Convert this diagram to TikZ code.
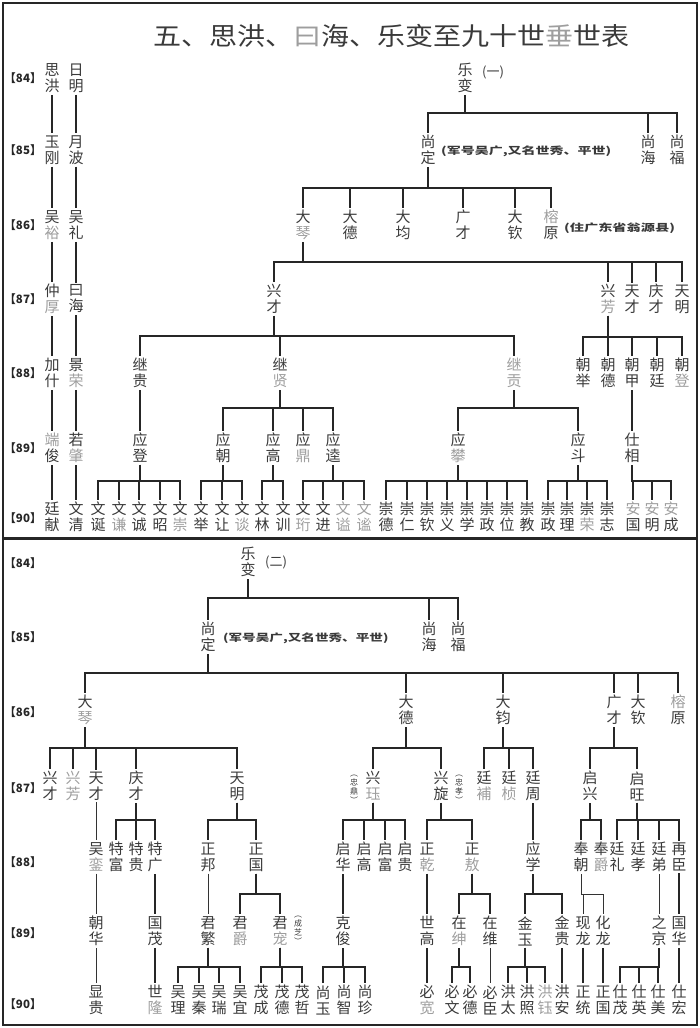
\documentclass[tikz,border=0pt]{standalone}
\usepackage{fontspec}
\usepackage{graphicx}
\setmainfont{Noto Sans CJK SC}
\usetikzlibrary{positioning}
\definecolor{ink}{HTML}{3A3A3A}
\definecolor{faint}{HTML}{9E9E9E}
\newcommand\pale[1]{\textcolor{faint}{#1}}
\begin{document}
\begin{tikzpicture}[x=1pt,y=-1pt,
    person/.style={inner sep=2pt, align=center, text=ink, font=\fontsize{15}{16}\selectfont},
    gen/.style={inner sep=0pt, text=black!85, font=\fontsize{11.5}{13}\selectfont\bfseries},
    note/.style={inner sep=0pt, anchor=west, text=ink, font=\fontsize{10}{12}\selectfont\bfseries},
    vnote/.style={inner sep=0pt, align=center, text=ink, font=\fontsize{8}{9}\selectfont},
    link/.style={line width=2pt, draw=black!85},
    slim/.style={line width=1pt, draw=black!80}]
        \useasboundingbox (0,0) rectangle (700,1028);
        % Frame
        \draw[line width=2.5pt, black!85] (3,3) rectangle (697,1025);
        \draw[line width=3pt, black!85] (3,538) -- (697,538);
        % Title
        \node[text=ink, font=\fontsize{25}{28}\selectfont] (title) at (391,36)
            {\scalebox{1.12}[1]{五、思洪、\pale{曰}海、乐变至九十世\pale{垂}世表}};
        % Generation labels
        \foreach \g/\y in {84/78, 85/150, 86/225, 87/299, 88/373, 89/448, 90/518}
            \node[gen] (up\g) at (23,\y) {【\g】};
        \foreach \g/\y in {84/563, 85/637, 86/712, 87/788, 88/862, 89/933, 90/1004}
            \node[gen] (low\g) at (23,\y) {【\g】};
        % Left lines
        \foreach \id/\y/\txt in {sa/78/思\\洪, sb/150/玉\\刚, sc/225/吴\\\pale{裕}, sd/299/仲\\\pale{厚},
                se/373/加\\什, sf/448/\pale{端}\\俊, sg/517/廷\\献}
            \node[person] (\id) at (52,\y) {\txt};
        \foreach \id/\y/\txt in {ra/78/日\\明, rb/150/月\\波, rc/225/吴\\礼, rd/299/曰\\海,
                re/373/景\\\pale{荣}, rf/448/若\\\pale{肇}, rg/517/文\\清}
            \node[person] (\id) at (76,\y) {\txt};
        \foreach \pa/\ch in {sa/sb, sb/sc, sc/sd, sd/se, se/sf, sf/sg, ra/rb, rb/rc, rc/rd, rd/re, re/rf, rf/rg}
            \draw[link] (\pa) -- (\ch);
        % Upper tree: 84-85
        \node[person] (t84) at (465,78) {乐\\变};
        \node[note, font=\fontsize{13}{14}\selectfont] (n1) at (482,72) {(一)};
        \foreach \id/\x/\txt in {ta/428/尚\\定, tb/648/尚\\海, tc/677/尚\\福}
            \node[person] (\id) at (\x,150) {\txt};
        \node[note] (n2) at (441,151) {\scalebox{1.4}[1]{(军号吴广,又名世秀、平世)}};
        \foreach \kid in {ta,tb,tc}
            \draw[link] (t84) -- (t84 |- 0,113) -| (\kid);
        % Upper tree: 86
        \foreach \id/\x/\txt in {ua/303/大\\\pale{琴}, ub/350/大\\德, uc/403/大\\均, ud/463/广\\才,
                ue/515/大\\钦, uf/551/\pale{榕}\\原}
            \node[person] (\id) at (\x,225) {\txt};
        \node[note] (n3) at (564,228) {\scalebox{1.42}[1]{(住广东省翁源县)}};
        \foreach \kid in {ua,ub,uc,ud,ue,uf}
            \draw[link] (ta) -- (ta |- 0,188) -| (\kid);
        % Upper tree: 87
        \foreach \id/\x/\txt in {va/274/兴\\才, vb/608/兴\\\pale{芳}, vc/632/天\\才, vd/656/庆\\才, ve/682/天\\明}
            \node[person] (\id) at (\x,299) {\txt};
        \foreach \kid in {va,vb,vc,vd,ve}
            \draw[link] (ua) -- (ua |- 0,262) -| (\kid);
        % Upper tree: 88
        \foreach \id/\x/\txt in {wa/140/继\\贵, wb/280/继\\\pale{贤}, wc/514/\pale{继}\\\pale{贡}, wd/583/朝\\举,
                we/608/朝\\德, wf/632/朝\\甲, wg/657/朝\\廷, wh/682/朝\\\pale{登}}
            \node[person] (\id) at (\x,373) {\txt};
        \foreach \kid in {wa,wb,wc}
            \draw[link] (va) -- (va |- 0,336) -| (\kid);
        \foreach \kid in {wd,we,wf,wg,wh}
            \draw[link] (vb) -- (vb |- 0,337) -| (\kid);
        % Upper tree: 89
        \foreach \id/\x/\txt in {xa/140/应\\登, xb/223/应\\朝, xc/273/应\\高, xd/303/应\\\pale{鼎},
                xe/333/应\\逵, xf/458/应\\\pale{攀}, xg/578/应\\斗, xh/632/仕\\相}
            \node[person] (\id) at (\x,448) {\txt};
        \draw[link] (wa) -- (xa);
        \foreach \kid in {xb,xc,xd,xe}
            \draw[link] (wb) -- (wb |- 0,408) -| (\kid);
        \foreach \kid in {xf,xg}
            \draw[link] (wc) -- (wc |- 0,408) -| (\kid);
        \draw[link] (wf) -- (xh);
        % Upper tree: 90
        \foreach \id/\x/\txt in {z1/98/文\\诞, z2/119/文\\\pale{谦}, z3/139/文\\诚, z4/160/文\\昭,
                z5/180/文\\\pale{崇}, z6/201/文\\举, z7/222/文\\让, z8/242/文\\\pale{谈}, z9/262/文\\林,
                z10/283/文\\训, z11/303/文\\\pale{珩}, z12/323/文\\进, z13/343/\pale{文}\\\pale{谥},
                z14/364/\pale{文}\\\pale{谧}, z15/386/崇\\德, z16/407/崇\\仁, z17/427/崇\\钦,
                z18/447/崇\\义, z19/467/崇\\学, z20/487/崇\\政, z21/507/崇\\位, z22/527/崇\\教,
                z23/548/崇\\政, z24/567/崇\\理, z25/587/崇\\\pale{荣}, z26/607/崇\\志,
                z27/633/\pale{安}\\国, z28/652/\pale{安}\\明, z29/671/\pale{安}\\成}
            \node[person] (\id) at (\x,517) {\txt};
        \foreach \kid in {z1,z2,z3,z4,z5}
            \draw[link] (xa) -- (xa |- 0,481) -| (\kid);
        \foreach \kid in {z6,z7,z8}
            \draw[link] (xb) -- (xb |- 0,481) -| (\kid);
        \foreach \kid in {z9,z10}
            \draw[link] (xc) -- (xc |- 0,481) -| (\kid);
        \foreach \kid in {z11,z12,z13,z14}
            \draw[link] (xe) -- (xe |- 0,481) -| (\kid);
        \foreach \kid in {z15,z16,z17,z18,z19,z20,z21,z22}
            \draw[link] (xf) -- (xf |- 0,481) -| (\kid);
        \foreach \kid in {z23,z24,z25,z26}
            \draw[link] (xg) -- (xg |- 0,481) -| (\kid);
        \foreach \kid in {z27,z28,z29}
            \draw[link] (xh) -- (xh |- 0,481) -| (\kid);
        % Lower tree: 84-85
        \node[person] (b84) at (248,562) {乐\\变};
        \node[note, font=\fontsize{13}{14}\selectfont] (n4) at (265,562) {(二)};
        \foreach \id/\x/\txt in {ba/208/尚\\定, bb/429/尚\\海, bc/458/尚\\福}
            \node[person] (\id) at (\x,637) {\txt};
        \node[note] (n5) at (223,638) {\scalebox{1.36}[1]{(军号吴广,又名世秀、平世)}};
        \foreach \kid in {ba,bb,bc}
            \draw[link] (b84) -- (b84 |- 0,598) -| (\kid);
        % Lower tree: 86
        \foreach \id/\x/\txt in {ca/85/大\\\pale{琴}, cb/406/大\\德, cc/503/大\\钧, cd/614/广\\才,
                ce/638/大\\钦, cf/678/\pale{榕}\\原}
            \node[person] (\id) at (\x,710) {\txt};
        \foreach \kid in {ca,cb,cc,cd,ce,cf}
            \draw[link] (ba) -- (ba |- 0,673) -| (\kid);
        % Lower tree: 87
        \foreach \id/\x/\txt in {da/50/兴\\才, db/73/\pale{兴}\\\pale{芳}, dc/96/天\\才, dd/136/庆\\才,
                de/237/天\\明, df/373/兴\\\pale{珏}, dg/441/兴\\旋, dh/484/廷\\\pale{補},
                di/509/廷\\\pale{桢}, dj/533/廷\\周, dk/590/启\\兴, dl/637/启\\旺}
            \node[person] (\id) at (\x,786) {\txt};
        \node[vnote] (n6) at (354,789) {︵\\忠\\鼎\\︶};
        \node[vnote] (n7) at (459,789) {︵\\忠\\孝\\︶};
        \foreach \kid in {da,db,dc,dd,de}
            \draw[link] (ca) -- (ca |- 0,748) -| (\kid);
        \foreach \kid in {df,dg}
            \draw[link] (cb) -- (cb |- 0,748) -| (\kid);
        \foreach \kid in {dh,di,dj}
            \draw[link] (cc) -- (cc |- 0,748) -| (\kid);
        \foreach \kid in {dk,dl}
            \draw[link] (cd) -- (cd |- 0,748) -| (\kid);
        % Lower tree: 88
        \foreach \id/\x/\txt in {ea/96/吴\\\pale{銮}, eb/116/特\\富, ec/136/特\\贵, ed/155/特\\广,
                ee/208/正\\邦, ef/256/正\\国, eg/343/启\\华, eh/364/启\\高, ei/385/启\\富,
                ej/405/启\\贵, ek/427/正\\\pale{乾}, el/472/正\\\pale{敖}, em/533/应\\学,
                en/581/奉\\朝, eo/601/奉\\\pale{爵}, ep/617/廷\\礼, eq/638/廷\\孝, er/659/廷\\弟, es/679/再\\臣}
            \node[person] (\id) at (\x,857) {\txt};
        \draw[slim] (dc) -- (ea);
        \foreach \kid in {eb,ec,ed}
            \draw[link] (dd) -- (dd |- 0,820) -| (\kid);
        \foreach \kid in {ee,ef}
            \draw[link] (de) -- (de |- 0,820) -| (\kid);
        \foreach \kid in {eg,eh,ei,ej}
            \draw[link] (df) -- (df |- 0,820) -| (\kid);
        \foreach \kid in {ek,el}
            \draw[link] (dg) -- (dg |- 0,820) -| (\kid);
        \draw[link] (dj) -- (em);
        \foreach \kid in {en,eo}
            \draw[link] (dk) -- (dk |- 0,820) -| (\kid);
        \foreach \kid in {ep,eq,er,es}
            \draw[link] (dl) -- (dl |- 0,820) -| (\kid);
        % Lower tree: 89
        \foreach \id/\x/\txt in {fa/96/朝\\华, fb/155/国\\茂, fc/208/君\\繁, fd/240/君\\\pale{爵},
                fe/280/君\\\pale{宠}, ff/343/克\\俊, fg/427/世\\高, fh/459/在\\\pale{绅}, fi/490/在\\维,
                fj/525/金\\玉, fk/562/金\\贵, fl/583/现\\龙, fm/603/化\\龙, fn/659/之\\京, fo/679/国\\华}
            \node[person] (\id) at (\x,931) {\txt};
        \node[vnote] (n8) at (298,930) {︵\\成\\芝\\︶};
        \draw[slim] (ea) -- (fa);
        \draw[link] (ed) -- (fb);
        \draw[slim] (ee) -- (fc);
        \foreach \kid in {fd,fe}
            \draw[link] (ef) -- (ef |- 0,894) -| (\kid);
        \draw[link] (eg) -- (ff);
        \draw[link] (ek) -- (fg);
        \foreach \kid in {fh,fi}
            \draw[link] (el) -- (el |- 0,894) -| (\kid);
        \foreach \kid in {fj,fk}
            \draw[link] (em) -- (em |- 0,894) -| (\kid);
        \foreach \kid in {fl,fm}
            \draw[slim] (en) -- (en |- 0,894) -| (\kid);
        \draw[slim] (er) -- (fn);
        \draw[link] (es) -- (fo);
        % Lower tree: 90
        \foreach \id/\x/\txt in {h1/96/显\\贵, h2/155/世\\\pale{隆}, h3/178/吴\\理, h4/199/吴\\秦,
                h5/219/吴\\瑞, h6/240/吴\\宜, h7/261/茂\\成, h8/282/茂\\德, h9/302/茂\\哲,
                h10/323/尚\\玉, h11/344/尚\\智, h12/365/尚\\珍, h13/427/必\\\pale{宽}, h14/452/必\\文,
                h15/470/必\\德, h16/490/必\\臣, h17/508/洪\\太, h18/527/洪\\照, h19/545/\pale{洪}\\\pale{钰},
                h20/562/洪\\安, h21/583/正\\统, h22/603/正\\国, h23/620/仕\\茂, h24/639/仕\\英,
                h25/658/仕\\美, h26/679/仕\\宏}
            \node[person] (\id) at (\x,1000) {\txt};
        \draw[slim] (fa) -- (h1);
        \draw[link] (fb) -- (h2);
        \foreach \kid in {h3,h4,h5,h6}
            \draw[link] (fc) -- (fc |- 0,967) -| (\kid);
        \foreach \kid in {h7,h8,h9}
            \draw[link] (fe) -- (fe |- 0,967) -| (\kid);
        \foreach \kid in {h10,h11,h12}
            \draw[link] (ff) -- (ff |- 0,967) -| (\kid);
        \draw[link] (fg) -- (h13);
        \foreach \kid in {h14,h15}
            \draw[link] (fh) -- (fh |- 0,967) -| (\kid);
        \draw[slim] (fi) -- (h16);
        \foreach \kid in {h17,h18,h19}
            \draw[link] (fj) -- (fj |- 0,967) -| (\kid);
        \draw[link] (fk) -- (h20);
        \draw[link] (fl) -- (h21);
        \draw[link] (fm) -- (h22);
        \foreach \kid in {h23,h24,h25}
            \draw[link] (fn) -- (fn |- 0,967) -| (\kid);
        \draw[link] (fo) -- (h26);
    \end{tikzpicture}
\end{document}
